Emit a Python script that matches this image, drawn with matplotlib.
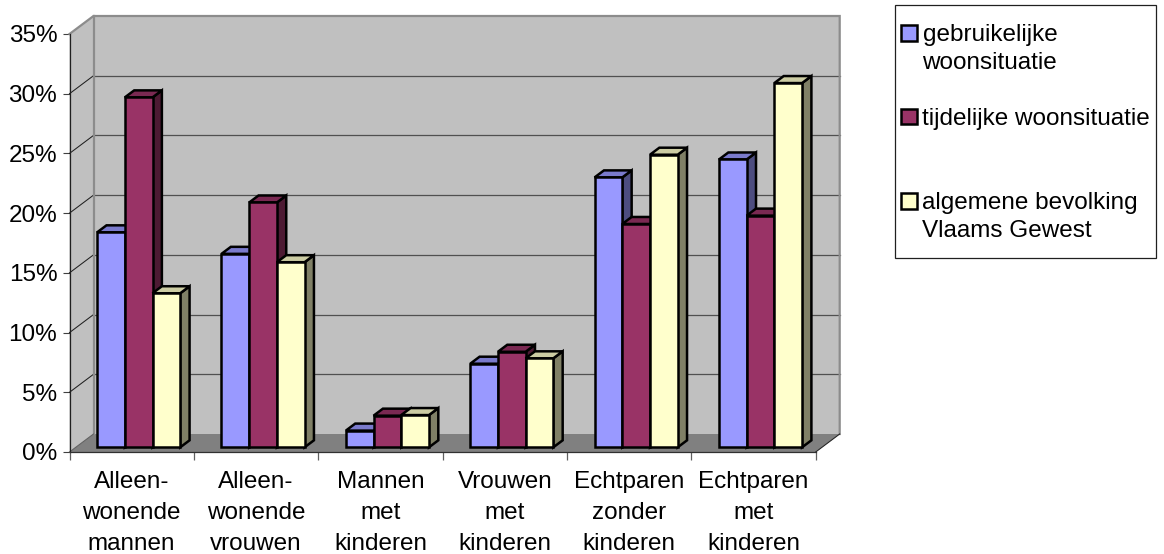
import matplotlib
matplotlib.use('Agg')
import matplotlib.pyplot as plt
from matplotlib.patches import Polygon, Rectangle

plt.rcParams['font.family'] = ['Liberation Sans', 'DejaVu Sans']

categories = ['Alleen-\nwonende\nmannen', 'Alleen-\nwonende\nvrouwen', 'Mannen\nmet\nkinderen',
              'Vrouwen\nmet\nkinderen', 'Echtparen\nzonder\nkinderen', 'Echtparen\nmet\nkinderen']
gebruikelijk = [18.0, 16.2, 1.4, 7.0, 22.6, 24.1]
tijdelijk = [29.3, 20.5, 2.65, 8.0, 18.7, 19.4]
algemeen = [12.9, 15.5, 2.7, 7.45, 24.5, 30.5]
series_names = ['gebruikelijke\nwoonsituatie', 'tijdelijke woonsituatie', 'algemene bevolking\nVlaams Gewest']
y_ticks = [0, 5, 10, 15, 20, 25, 30, 35]

# front, top and side colour per series
colors = [('#9999FF', '#7A7ACC', '#4D4D80'),
          ('#993366', '#7A2952', '#4D1A33'),
          ('#FFFFCC', '#CCCCA3', '#808066')]

W, H = 1164, 554
FONT = 17.5
LEFT, RIGHT, BOTTOM, TOP = 69.5, 815.7, 452.0, 34.0

fig = plt.figure(figsize=(W / 100, H / 100), dpi=100)
ax = fig.add_axes([LEFT / W, 1 - BOTTOM / H, (RIGHT - LEFT) / W, (BOTTOM - TOP) / H])
ax.set_xlim(0, 6)
ax.set_ylim(0, 35)
ax.patch.set_visible(False)

# fake 3d: depth runs from 0 (front) to 1 (back wall)
depth_x = 24.0 / ((RIGHT - LEFT) / 6)
depth_y = 18.0 / ((BOTTOM - TOP) / 35)


def proj(x, y, d):
    return (x + d * depth_x, y + d * depth_y)


def add_poly(pts, face, edge='none', lw=0.0, z=1):
    ax.add_patch(Polygon(pts, closed=True, facecolor=face, edgecolor=edge, linewidth=lw,
                         joinstyle='miter', clip_on=False, zorder=z))


# walls and floor
add_poly([proj(0, 0, 1), proj(6, 0, 1), proj(6, 35, 1), proj(0, 35, 1)], '#C0C0C0')
add_poly([proj(0, 0, 0), proj(0, 0, 1), proj(0, 35, 1), proj(0, 35, 0)], '#C0C0C0')
add_poly([proj(0, 0, 0), proj(6, 0, 0), proj(6, 0, 1), proj(0, 0, 1)], '#808080')

# gridlines on the walls
for t in y_ticks[1:-1]:
    p0, p1, p2 = proj(0, t, 0), proj(0, t, 1), proj(6, t, 1)
    ax.plot([p0[0], p1[0]], [p0[1], p1[1]], color='#202020', lw=0.75, zorder=2, clip_on=False)
    ax.plot([p1[0], p2[0]], [p1[1], p2[1]], color='#505050', lw=0.9, zorder=2, clip_on=False)

# wall borders
wall_edge = [proj(0, 35, 0), proj(0, 35, 1), proj(6, 35, 1), proj(6, 0, 1)]
ax.plot([p[0] for p in wall_edge], [p[1] for p in wall_edge], color='#8C8C8C', lw=1.6, zorder=2,
        clip_on=False, solid_joinstyle='miter')
ax.plot(*zip(proj(0, 0, 1), proj(0, 35, 1)), color='#8C8C8C', lw=1.6, zorder=2, clip_on=False)
ax.plot(*zip(proj(0, 0, 0), proj(0, 0, 1)), color='#606060', lw=0.75, zorder=2, clip_on=False)
ax.plot(*zip(proj(6, 0, 0), proj(6, 0, 1)), color='#202020', lw=0.75, zorder=2, clip_on=False)

# bars, painted left to right so each one covers the side of its neighbour
bar_w = 0.2227
gap = (1 - 3 * bar_w) / 2
d0, d1 = 0.26, 0.65
for g in range(len(categories)):
    for s, vals in enumerate([gebruikelijk, tijdelijk, algemeen]):
        v = vals[g]
        x0 = g + gap + s * bar_w + 0.006
        x1 = x0 + bar_w
        front, top, side = colors[s]
        z = 3 + g + s * 0.1
        add_poly([proj(x1, 0, d0), proj(x1, 0, d1), proj(x1, v, d1), proj(x1, v, d0)], side, 'black', 1.8, z)
        add_poly([proj(x0, v, d0), proj(x1, v, d0), proj(x1, v, d1), proj(x0, v, d1)], top, 'black', 1.8, z)
        add_poly([proj(x0, 0, d0), proj(x1, 0, d0), proj(x1, v, d0), proj(x0, v, d0)], front, 'black', 1.8, z)

# axes
for name in ['top', 'right']:
    ax.spines[name].set_visible(False)
ax.spines['left'].set_color('#202020')
ax.spines['bottom'].set_color('#303030')
ax.spines['left'].set_linewidth(0.9)
ax.spines['bottom'].set_linewidth(0.9)
ax.spines['left'].set_zorder(2)
ax.spines['bottom'].set_zorder(2)
ax.set_yticks(y_ticks)
ax.set_yticklabels(['%d%%' % t for t in y_ticks], fontsize=FONT, color='black')
ax.tick_params(axis='y', length=5.4, width=0.8, color='#404040', pad=3.4)
ax.set_xticks(range(7))
ax.set_xticklabels([])
ax.tick_params(axis='x', which='major', length=5.4, width=0.9, color='#606060')
ax.set_xticks([i + 0.5 for i in range(6)], minor=True)
ax.set_xticklabels(categories, minor=True, fontsize=FONT, color='black', linespacing=1.53)
ax.tick_params(axis='x', which='minor', length=0, pad=14)

# legend box, laid out in figure pixels
lg = fig.add_axes([0, 0, 1, 1])
lg.set_xlim(0, W)
lg.set_ylim(H, 0)
lg.axis('off')
lg.add_patch(Rectangle((894.5, 4.5), 261, 253, facecolor='white', edgecolor='#202020', linewidth=0.9))
key_y = [25, 108.5, 193]
text_y = [33, 117, 201]
for s, name in enumerate(series_names):
    lg.add_patch(Rectangle((901, key_y[s]), 16, 15.5, facecolor=colors[s][0], edgecolor='black', linewidth=1.8))
    lg.text(922.5, text_y[s] - 9, name, fontsize=FONT, va='top', ha='left', color='black', linespacing=1.36)

fig.savefig('out.png', dpi=100)
